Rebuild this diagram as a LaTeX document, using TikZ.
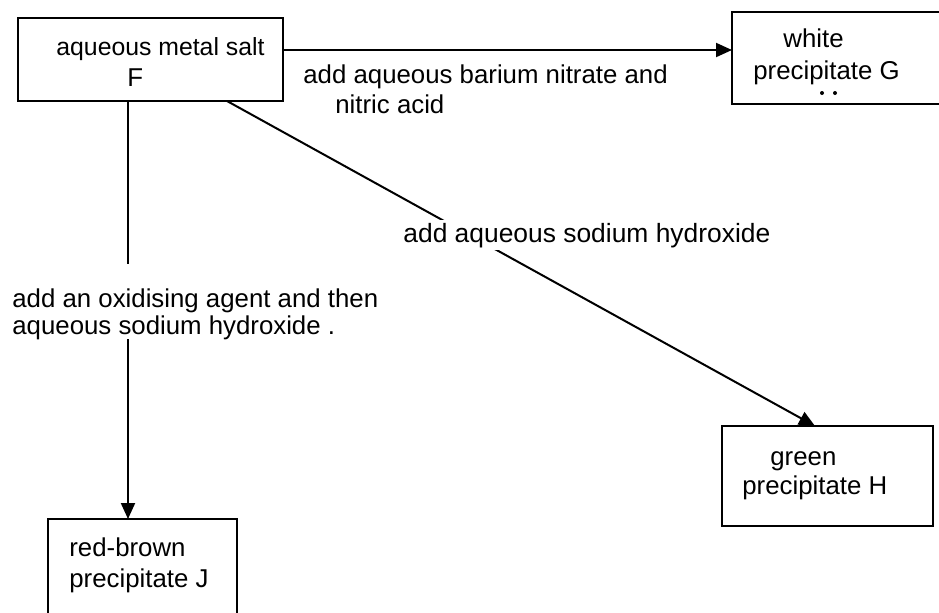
\documentclass[tikz,border=0pt]{standalone}
\usepackage{fontspec}
\setmainfont{Liberation Sans}
\usetikzlibrary{arrows.meta}
\begin{document}
\begin{tikzpicture}[x=0.5pt,y=-0.5pt,
  box/.style={draw, line width=1pt, rectangle, inner sep=0pt, outer sep=0pt},
  lbl/.style={inner sep=0pt, anchor=base west, font=\fontsize{12.9}{15}\selectfont},
  wlbl/.style={lbl, fill=white, inner xsep=0pt, inner ysep=1.5pt},
  arr/.style={line width=1pt, -{Triangle[length=8pt,width=7pt]}}]
\useasboundingbox (0,0) rectangle (939,612);
\clip (0,0) rectangle (939,612);
% boxes
\node[box, minimum width=132.5pt, minimum height=41.5pt] (F) at (150.5,59.5) {};
\node[box, minimum width=114pt, minimum height=46pt] (G) at (846,58) {};
\node[box, minimum width=105.5pt, minimum height=50pt] (H) at (827.5,476) {};
\node[box, minimum width=94.5pt, minimum height=60.5pt] (J) at (142.5,579.5) {};
% connectors
\draw[arr] (F.east |- 0,50) -- (G.west |- 0,50);
\draw[arr] (F.south -| 128,0) -- (J.north -| 128,0);
\draw[arr] (F.south -| 227,0) -- (H.north -| 815,0);
\fill[white] (108,264) rectangle (148,339);
% box texts
\node[lbl, font=\fontsize{12.4}{15}\selectfont] (Ft1) at (56,55) {aqueous metal salt};
\node[lbl] (Ft2) at (127,86) {F};
\node[lbl] (Gt1) at (783,47) {white};
\node[lbl] (Gt2) at (753,79) {precipitate G};
\fill (822,93) circle (1pt);
\fill (835,93) circle (1pt);
\node[lbl] (Ht1) at (770,465) {green};
\node[lbl] (Ht2) at (742,494) {precipitate H};
\node[lbl] (Jt1) at (69,556) {red-brown};
\node[lbl] (Jt2) at (69,587) {precipitate J};
% connector labels
\node[lbl] (L1a) at (303,83) {add aqueous barium nitrate and};
\node[lbl] (L1b) at (335,113) {nitric acid};
\node[lbl] (L2a) at (12,307) {add an oxidising agent and then};
\node[lbl] (L2b) at (12,334) {aqueous sodium hydroxide .};
\node[wlbl, font=\fontsize{13.2}{15}\selectfont] (L3) at (403,242) {add aqueous sodium hydroxide};
\end{tikzpicture}
\end{document}
